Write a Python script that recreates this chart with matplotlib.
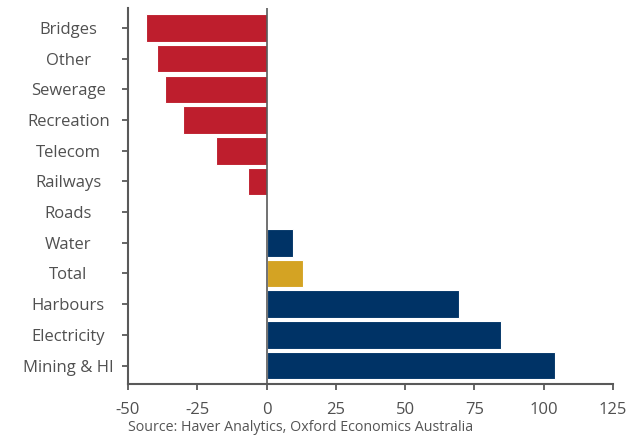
import matplotlib
matplotlib.use("Agg")
import matplotlib.pyplot as plt

categories = ["Bridges", "Other", "Sewerage", "Recreation", "Telecom", "Railways",
              "Roads", "Water", "Total", "Harbours", "Electricity", "Mining & HI"]
values = [-43.6, -39.5, -36.6, -30.1, -18.4, -6.6, 0.0, 9.4, 13.0, 69.5, 84.7, 104.0]
xticks = [-50, -25, 0, 25, 50, 75, 100, 125]
source = "Source: Haver Analytics, Oxford Economics Australia"

RED = "#BE1E2D"
NAVY = "#003366"
GOLD = "#D4A323"
AX = "#595959"

def color_for(cat, v):
    if cat == "Total":
        return GOLD
    return RED if v < 0 else NAVY

plt.rcParams['font.family'] = ['Open Sans', 'DejaVu Sans']
fig = plt.figure(figsize=(6.31, 4.37), dpi=100)
ax = fig.add_axes([0.2029, 0.1213, 0.7686, 0.8604])

ypos = list(range(len(categories)))
ax.barh(ypos, values, height=0.9, color=[color_for(c, v) for c, v in zip(categories, values)],
        edgecolor="white", linewidth=0.8, zorder=2)
ax.axvline(0, color=AX, linewidth=1.2, zorder=3)

ax.set_xlim(-50, 125)
ax.set_ylim(11.6, -0.65)
ax.set_yticks(ypos)
ax.set_yticklabels(categories, ha="center")
ax.set_xticks(xticks)
ax.set_xticklabels([str(t) for t in xticks])

for s in ["top", "right"]:
    ax.spines[s].set_visible(False)
for s in ["left", "bottom"]:
    ax.spines[s].set_color(AX)
    ax.spines[s].set_linewidth(1.5)
ax.tick_params(axis="both", colors=AX, labelcolor="#505050", labelsize=12, length=4, width=1.3)
ax.tick_params(axis="y", pad=39)
ax.tick_params(axis="x", pad=9)

fig.text(0.2029, 0.004, source, fontsize=10.3, color="#555555", ha="left", va="bottom")

fig.savefig("out.png", dpi=100)
